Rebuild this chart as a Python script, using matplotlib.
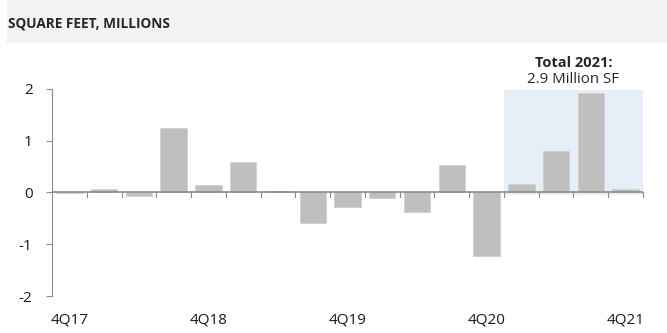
import matplotlib.pyplot as plt
from matplotlib.patches import Rectangle

# quarterly net absorption, millions of square feet
quarters = ['4Q17', '1Q18', '2Q18', '3Q18', '4Q18', '1Q19', '2Q19', '3Q19', '4Q19',
            '1Q20', '2Q20', '3Q20', '4Q20', '1Q21', '2Q21', '3Q21', '4Q21']
values = [-0.01, 0.06, -0.06, 1.25, 0.14, 0.59, 0.02, -0.58, -0.28,
          -0.11, -0.37, 0.54, -1.23, 0.16, 0.80, 1.92, 0.06]
label_quarters = ['4Q17', '4Q18', '4Q19', '4Q20', '4Q21']
yticks = [-2, -1, 0, 1, 2]

plt.rcParams['font.family'] = ['Open Sans', 'DejaVu Sans']

fig = plt.figure(figsize=(6.67, 3.33), dpi=100)
ax = fig.add_axes([0.078, 0.111, 0.886, 0.622])

# header band
fig.patches.append(Rectangle((7 / 667, 1 - 42 / 333), 1, 42 / 333,
                             transform=fig.transFigure, color='#F2F2F2', zorder=0))
fig.text(8 / 667, 1 - 23 / 333, 'SQUARE FEET, MILLIONS', fontsize=9.8, fontweight='bold',
         color='#262626', va='center', ha='left')

x = list(range(len(quarters)))

# 2021 highlight
ax.add_patch(Rectangle((12.5, -0.05), 4, 2.02, color='#E6EEF8', zorder=0, lw=0))

ax.bar(x, values, width=0.76, color='#BFBFBF', edgecolor='#D0D0D0', linewidth=0.6, zorder=2)

ax.text(14.5, 2.36, 'Total 2021:', ha='center', va='bottom', fontsize=10.5,
        fontweight='bold', color='#262626')
ax.text(14.5, 2.04, '2.9 Million SF', ha='center', va='bottom', fontsize=10.8,
        color='#262626')

ax.set_xlim(-0.5, 16.5)
ax.set_ylim(-2, 2)
ax.set_yticks(yticks)
ax.set_yticklabels([str(v) for v in yticks])

for s in ['top', 'right', 'bottom']:
    ax.spines[s].set_visible(False)
ax.spines['left'].set_color('#8C8C8C')
ax.spines['left'].set_linewidth(0.8)
ax.axhline(0, color='#8C8C8C', lw=1.2, zorder=3)

# category boundary ticks on the zero line
ax.set_xticks([i + 0.5 for i in x])
ax.set_xticklabels([])
ax.tick_params(axis='x', length=0)
for i in x:
    ax.plot([i + 0.5, i + 0.5], [0, -0.08], color='#8C8C8C', lw=0.8, zorder=3, clip_on=False)

# quarter labels under the chart
for q in label_quarters:
    ax.text(quarters.index(q), -2.32, q, ha='center', va='top', fontsize=11, color='#1A1A1A')

ax.tick_params(axis='y', length=4, width=0.8, color='#8C8C8C', labelsize=11,
               labelcolor='#1A1A1A', pad=10)

fig.savefig('out.png', dpi=100)
